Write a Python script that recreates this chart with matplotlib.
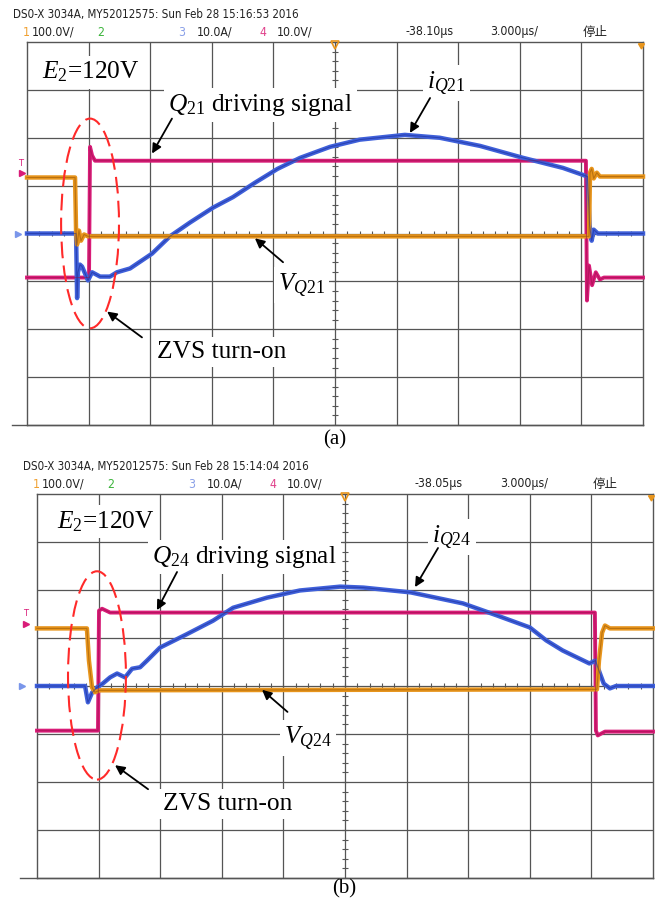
import matplotlib
matplotlib.use("Agg")
import matplotlib.pyplot as plt
from matplotlib.patches import Ellipse
from matplotlib.lines import Line2D

plt.rcParams["mathtext.fontset"] = "custom"
plt.rcParams["mathtext.rm"] = "Liberation Serif"
plt.rcParams["mathtext.it"] = "Liberation Serif:italic"

# ---------------- scope settings ----------------
US_PER_DIV = 3.0        # time base, µs/div
CH1_V_PER_DIV = 100.0   # switch voltage
CH3_A_PER_DIV = 10.0    # switch current
CH4_V_PER_DIV = 10.0    # gate drive

# ---------------- panel (a): Q21 ----------------
t_vq21 = [0, 2.34, 2.39, 2.44, 2.53, 2.63, 2.78, 2.97, 27.37, 27.42, 27.5, 27.6, 27.75, 27.9, 30]
v_vq21 = [123, 123, 10, -17, 12, -9, 4, 0, 0, 133, 141, 121, 133, 125, 125]

t_iq21 = [0, 2.39, 2.44, 2.48, 2.58, 2.68, 2.97, 3.17, 3.56, 4.04, 4.38, 5.02, 6.09, 6.96,
          7.94, 9.06, 10.03, 11.1, 12.2, 13.3, 14.76, 16.2, 18.4, 20.1, 22.06, 24.16, 26.1,
          27.3, 27.4, 27.5, 27.6, 27.8, 30]
i_iq21 = [0, 0, -13.5, -8.1, -6.5, -6.9, -9.8, -8.1, -9.0, -9.0, -8.1, -7.3, -4.2, -0.6,
          2.3, 5.4, 7.6, 10.6, 13.5, 15.8, 18.1, 19.6, 20.6, 20.0, 18.3, 15.8, 13.7,
          11.9, 1.7, -1.5, 0.8, 0, 0]

t_gq21 = [0, 3.02, 3.07, 3.17, 3.31, 27.22, 27.27, 27.37, 27.52, 27.7, 27.9, 28.1, 30]
v_gq21 = [-5, -5, 22.3, 20.5, 19.4, 19.4, -9.8, -2.5, -6.6, -3.9, -5.4, -5, -5]

# ---------------- panel (b): Q24 ----------------
t_vq24 = [0, 2.39, 2.43, 2.53, 2.68, 2.82, 3.07, 27.27, 27.37, 27.52, 27.66, 27.9, 30]
v_vq24 = [127, 127, 127, 60, 4, -6, -2, 0, 60, 118, 133, 127, 127]

t_iq24 = [0, 2.34, 2.48, 2.68, 2.92, 3.2, 3.56, 3.9, 4.29, 4.63, 5.02, 5.36, 5.99, 7.3,
          8.57, 9.55, 11.2, 12.8, 14.76, 15.9, 18.2, 20.75, 22.4, 24.0, 24.8, 25.6, 26.9,
          27.2, 27.4, 27.6, 27.9, 28.2, 30]
i_iq24 = [0, 0, -3.4, -1.4, -0.3, 0.5, 1.8, 2.6, 1.8, 3.6, 3.9, 5.3, 8.0, 10.8,
          13.6, 16.3, 18.4, 19.9, 20.7, 20.5, 19.5, 17.2, 14.7, 12.2, 9.5, 7.4, 4.7,
          5.3, 2.8, 0.5, -0.5, 0, 0]

t_gq24 = [0, 2.97, 3.02, 3.17, 3.56, 27.17, 27.22, 27.31, 27.66, 30]
v_gq24 = [-5, -5, 20.0, 20.4, 19.6, 19.6, -5, -6, -5.2, -5.2]

# header texts
header_a = "DS0-X 3034A, MY52012575: Sun Feb 28 15:16:53 2016"
header_b = "DS0-X 3034A, MY52012575: Sun Feb 28 15:14:04 2016"
delay_a = "-38.10µs"
delay_b = "-38.05µs"
timebase = "3.000µs/"
run_state = "停止"

C_ORANGE = "#E8951C"
C_BLUE = "#3F60DA"
C_PINK = "#D91C78"
C_GRID = "#555555"
C_RED = "#FF2A2A"

W, H = 655, 908
fig = plt.figure(figsize=(W / 100, H / 100), dpi=100)


def px_axes(left, top, right, bottom):
    return fig.add_axes([left / W, 1 - bottom / H, (right - left) / W, (bottom - top) / H])


def fig_text(x, y, s, **kw):
    fig.text(x / W, 1 - y / H, s, va="baseline", **kw)


def scope_grid(ax):
    ax.set_xlim(0, 10 * US_PER_DIV)
    ax.set_ylim(-4, 4)
    ax.set_xticks([])
    ax.set_yticks([])
    for s in ax.spines.values():
        s.set_color(C_GRID)
        s.set_linewidth(1.0)
    for k in range(1, 10):
        ax.axvline(k * US_PER_DIV, color=C_GRID, lw=0.9, zorder=1)
    for k in range(-3, 4):
        ax.axhline(k, color=C_GRID, lw=0.9, zorder=1)
    # minor ticks on the centre axes
    yt = [-4 + 0.2 * k for k in range(41)]
    ax.hlines(yt, 15 - 0.13, 15 + 0.13, color=C_GRID, lw=0.8, zorder=1)
    xt = [0.6 * k for k in range(51)]
    ax.vlines(xt, -0.06, 0.06, color=C_GRID, lw=0.8, zorder=1)
    # trigger position marker and corner marker
    ax.plot([15], [3.93], marker="v", ms=6, mfc="none", mec=C_ORANGE, mew=1.2,
            clip_on=False, zorder=6)
    ax.plot([29.92], [3.94], marker=(3, 0, 180), ms=5, color=C_ORANGE,
            clip_on=False, zorder=6)


def trace(ax, t, y, color, dark, lw):
    ax.plot(t, y, color=color, lw=lw, solid_joinstyle="round", zorder=4, clip_on=False)
    ax.plot(t, y, color=dark, lw=0.8, alpha=0.6, zorder=4.1, clip_on=False)


def draw_panel(ax, tv, vv, ti, ii, tg, vg, off1, off4):
    scope_grid(ax)
    trace(ax, tg, [off4 + v / CH4_V_PER_DIV for v in vg], C_PINK, "#a0104f", 2.8)
    trace(ax, ti, [i / CH3_A_PER_DIV for i in ii], C_BLUE, "#1d2f9a", 3.2)
    trace(ax, tv, [off1 + v / CH1_V_PER_DIV for v in vv], C_ORANGE, "#9a5a08", 3.2)


lab_kw = dict(fontsize=18.3, family="Liberation Serif", color="black", zorder=3,
              bbox=dict(facecolor="white", edgecolor="none", pad=3))
arr_kw = dict(arrowstyle="-|>", color="black", lw=1.3, mutation_scale=14,
              shrinkA=0, shrinkB=0)


def annotate(ax, txt, xy_text, xy_tip=None, tail=None):
    ax.text(xy_text[0], xy_text[1], txt, ha="left", va="baseline", **lab_kw)
    if xy_tip is not None:
        ax.annotate("", xy=xy_tip, xytext=tail, arrowprops=arr_kw, zorder=5)


HEAD_FAM = ["DejaVu Sans", "Liberation Sans"]


def header(y0, dx, line1, delay):
    fig_text(13 + dx, y0, line1, fontsize=8.3, family=HEAD_FAM,
             fontstretch="condensed", color="#222222")
    y1 = y0 + 17.5
    items = [(23, "1", "#F0A030"), (32, "100.0V/", "#222222"), (97, "2", "#3CB43C"),
             (178, "3", "#8AA0E8"), (197, "10.0A/", "#222222"), (260, "4", "#E0408A"),
             (277, "10.0V/", "#222222"), (405, delay, "#222222"), (490, timebase, "#222222")]
    for x, s, c in items:
        fig_text(x + dx, y1, s, fontsize=8.8, family=HEAD_FAM, fontstretch="condensed",
                 color=c)
    fig_text(583 + dx, y1, run_state, fontsize=9,
             family=["Noto Sans CJK SC", "DejaVu Sans"], color="#222222")


def side_markers(ax, t_marker, trig_div):
    ax.plot([t_marker], [0], marker=">", ms=5, color="#7a96ea", clip_on=False, zorder=6)
    ax.plot([t_marker + 0.2], [trig_div], marker=">", ms=4, color=C_PINK, clip_on=False, zorder=6)
    ax.text(t_marker + 0.15, trig_div + 0.2, "T", fontsize=6, color=C_PINK, ha="center",
            va="center", clip_on=False)


# ---------------- panel (a) ----------------
header(18, 0, header_a, delay_a)
ax_a = px_axes(27, 42, 643, 425)
draw_panel(ax_a, t_vq21, v_vq21, t_iq21, i_iq21, t_gq21, v_gq21, -0.06, -0.42)
side_markers(ax_a, -0.44, 1.27)
ax_a.add_patch(Ellipse((3.07, 0.21), 2.82, 4.38, fill=False, ec=C_RED, lw=1.5,
                       ls=(0, (8, 3.5)), zorder=5))
annotate(ax_a, r"$E_2$=120V", (0.73, 3.23))
annotate(ax_a, r"$Q_{21}$ driving signal", (6.87, 2.56), (6.09, 1.67), (7.06, 2.40))
annotate(ax_a, r"$i_{Q21}$", (19.48, 3.04), (18.65, 2.10), (19.63, 2.83))
annotate(ax_a, r"$V_{Q21}$", (12.22, -1.19), (11.1, -0.10), (12.47, -0.60))
annotate(ax_a, "ZVS turn-on", (6.33, -2.6), (3.9, -1.63), (5.6, -2.17))
fig.add_artist(Line2D([12 / W, 643 / W], [1 - 425 / H, 1 - 425 / H], color=C_GRID, lw=1.0))
fig_text(335, 444, "(a)", fontsize=15, family="Liberation Serif", ha="center")

# ---------------- panel (b) ----------------
header(470, 10, header_b, delay_b)
ax_b = px_axes(37, 494, 653, 878)
draw_panel(ax_b, t_vq24, v_vq24, t_iq24, i_iq24, t_gq24, v_gq24, -0.07, -0.43)
side_markers(ax_b, -0.73, 1.3)
ax_b.add_patch(Ellipse((2.92, 0.22), 2.82, 4.34, fill=False, ec=C_RED, lw=1.5,
                       ls=(0, (8, 3.5)), zorder=5))
annotate(ax_b, r"$E_2$=120V", (0.97, 3.29))
annotate(ax_b, r"$Q_{24}$ driving signal", (5.6, 2.56), (5.84, 1.58), (6.82, 2.375))
annotate(ax_b, r"$i_{Q24}$", (19.24, 3.0), (18.41, 2.06), (19.53, 2.875))
annotate(ax_b, r"$V_{Q24}$", (12.03, -1.19), (10.96, -0.08), (12.2, -0.54))
annotate(ax_b, "ZVS turn-on", (6.14, -2.58), (3.8, -1.65), (5.41, -2.15))
fig.add_artist(Line2D([20 / W, 653 / W], [1 - 878 / H, 1 - 878 / H], color=C_GRID, lw=1.0))
fig_text(344, 893, "(b)", fontsize=15, family="Liberation Serif", ha="center")

fig.savefig("out.png", dpi=100, facecolor="white")
